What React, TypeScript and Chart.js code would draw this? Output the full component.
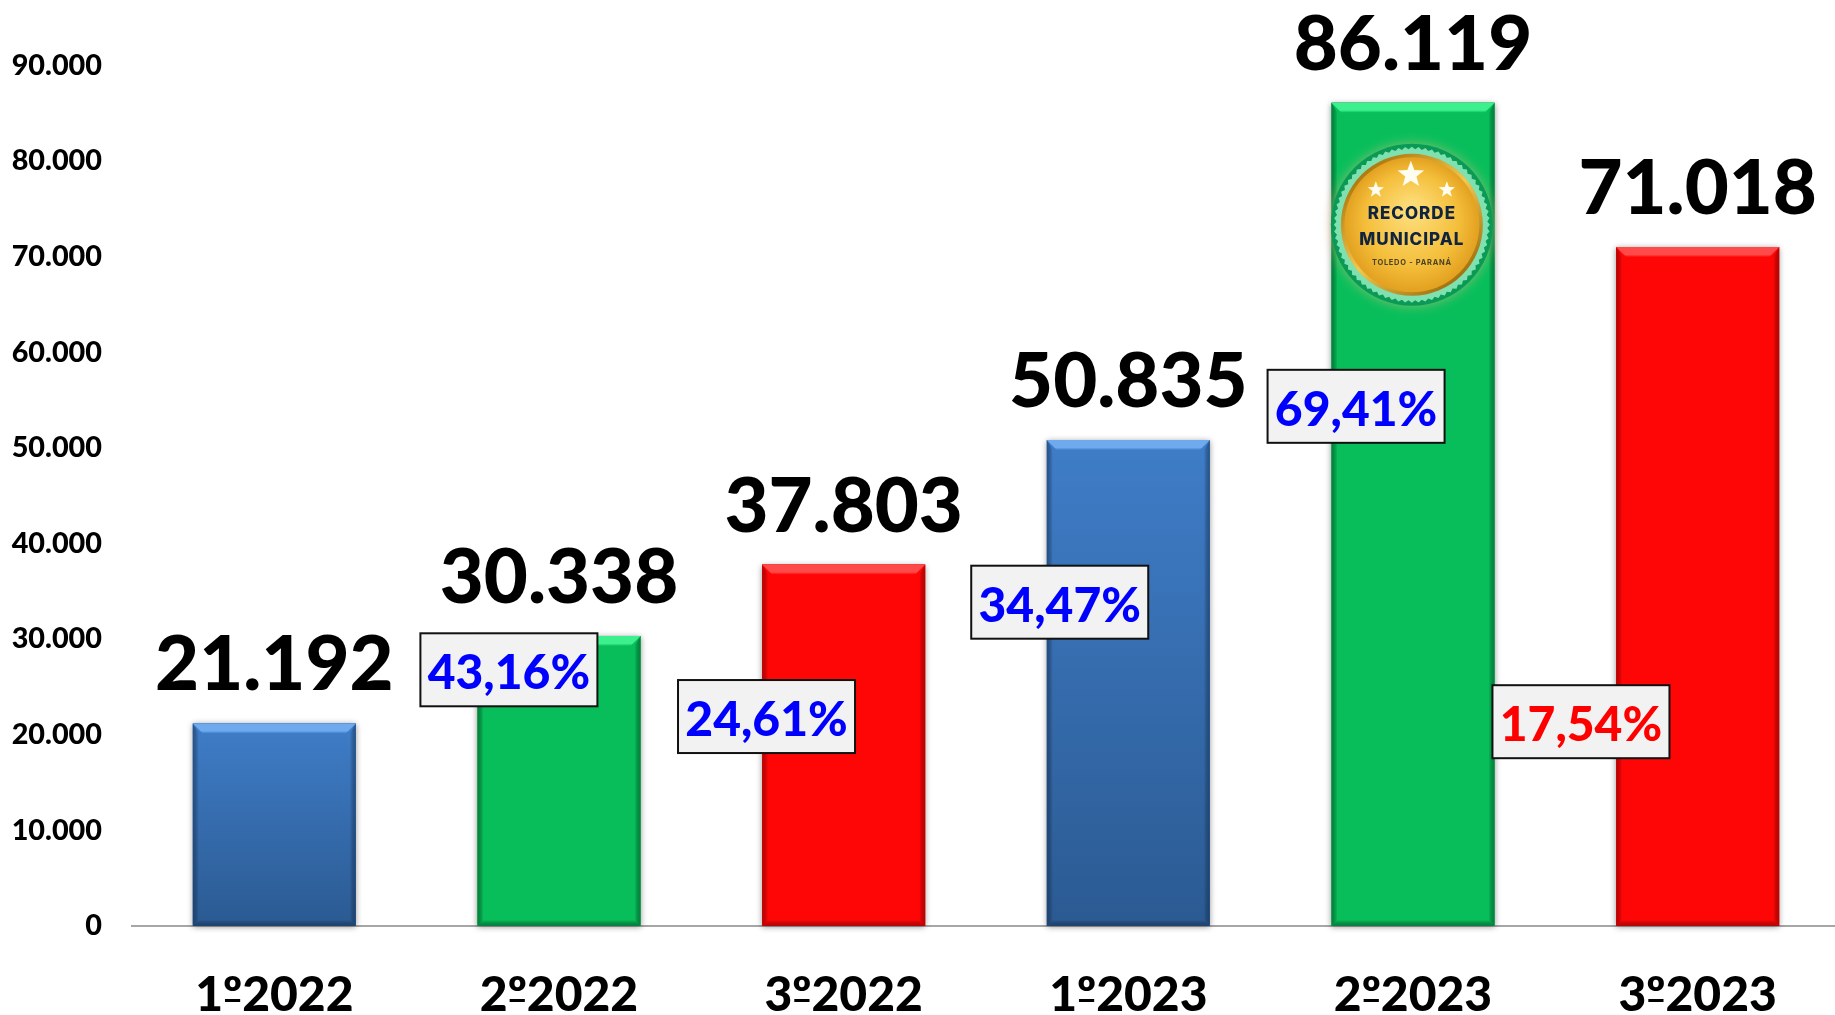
import React, { useEffect, useRef } from "react";
import { Chart, registerables } from "chart.js";

Chart.register(...registerables);

const categories = ["1º2022", "2º2022", "3º2022", "1º2023", "2º2023", "3º2023"];
const values = [21192, 30338, 37803, 50835, 86119, 71018];
const valueLabels = ["21.192", "30.338", "37.803", "50.835", "86.119", "71.018"];
const barColors = ["blue", "green", "red", "blue", "green", "red"];
const pctLabels = ["43,16%", "24,61%", "34,47%", "69,41%", "17,54%"];
const pctColors = ["#0000FF", "#0000FF", "#0000FF", "#0000FF", "#FF0000"];
const pctAtCategory = [0.824, 1.729, 2.759, 3.8, 4.59];
const pctAtValue = [26800, 21910, 33870, 54360, 21370];
const badgeCategory = 3.996;
const badgeValue = 73350;

const FONT = "Lato, Carlito, Calibri, sans-serif";
const TICK_SIZE = 48;
const fmt = (v: number) => (v === 0 ? "0" : `${Math.round(v / 1000)}.000`);

const palette: Record<string, any> = {
  blue: { top: "#3F7DC8", bottom: "#2B5A92", light: "#6FAAEE", edge: "rgba(20,50,90,0.55)" },
  green: { top: "#07BE5A", bottom: "#07BE5A", light: "#3CF08E", edge: "rgba(0,90,40,0.6)" },
  red: { top: "#FF0606", bottom: "#FF0606", light: "#FF4A4A", edge: "rgba(130,0,0,0.55)" },
};

function poly(ctx: CanvasRenderingContext2D, pts: number[][], fill: any) {
  ctx.fillStyle = fill;
  ctx.beginPath();
  pts.forEach((p, i) => (i ? ctx.lineTo(p[0], p[1]) : ctx.moveTo(p[0], p[1])));
  ctx.closePath();
  ctx.fill();
}

function star(ctx: CanvasRenderingContext2D, x: number, y: number, r: number) {
  ctx.beginPath();
  for (let i = 0; i < 10; i++) {
    const rad = i % 2 ? r * 0.42 : r;
    const a = -Math.PI / 2 + (i * Math.PI) / 5;
    const px = x + rad * Math.cos(a);
    const py = y + rad * Math.sin(a);
    if (i) ctx.lineTo(px, py);
    else ctx.moveTo(px, py);
  }
  ctx.closePath();
  ctx.fill();
}

const decorPlugin = {
  id: "decor",
  beforeDatasetsDraw(chart: any) {
    const { ctx } = chart;
    chart.getDatasetMeta(0).data.forEach((bar: any) => {
      const l = bar.x - bar.width / 2;
      ctx.save();
      ctx.shadowColor = "rgba(0,0,0,0.4)";
      ctx.shadowBlur = 6;
      ctx.shadowOffsetY = 1;
      ctx.fillStyle = "#888";
      ctx.fillRect(l, bar.y, bar.width, bar.base - bar.y);
      ctx.restore();
    });
  },
  afterDatasetsDraw(chart: any) {
    const { ctx, scales } = chart;
    const meta = chart.getDatasetMeta(0);
    const tb = 10;
    const sb = 6;
    const bb = 6;
    meta.data.forEach((bar: any, i: number) => {
      const p = palette[barColors[i]];
      const l = bar.x - bar.width / 2;
      const r = bar.x + bar.width / 2;
      const t = bar.y;
      const bt = bar.base;
      const body = ctx.createLinearGradient(0, t, 0, bt);
      body.addColorStop(0, p.top);
      body.addColorStop(1, p.bottom);
      ctx.fillStyle = body;
      ctx.fillRect(l, t, r - l, bt - t);

      const lg = ctx.createLinearGradient(l, 0, l + sb, 0);
      lg.addColorStop(0, p.edge);
      lg.addColorStop(1, "rgba(0,0,0,0)");
      poly(ctx, [[l, t], [l + sb, t + tb], [l + sb, bt - bb], [l, bt]], lg);
      const rg = ctx.createLinearGradient(r, 0, r - sb, 0);
      rg.addColorStop(0, p.edge);
      rg.addColorStop(1, "rgba(0,0,0,0)");
      poly(ctx, [[r, t], [r - sb, t + tb], [r - sb, bt - bb], [r, bt]], rg);
      const tg = ctx.createLinearGradient(0, t, 0, t + tb);
      tg.addColorStop(0, p.light);
      tg.addColorStop(0.75, p.light);
      tg.addColorStop(1, p.top);
      poly(ctx, [[l, t], [r, t], [r - tb, t + tb], [l + tb, t + tb]], tg);
      const bg = ctx.createLinearGradient(0, bt - bb, 0, bt);
      bg.addColorStop(0, "rgba(0,0,0,0)");
      bg.addColorStop(1, p.edge);
      poly(ctx, [[l, bt], [r, bt], [r - bb, bt - bb], [l + bb, bt - bb]], bg);
    });

    // Badge
    const cx = scales.x.getPixelForValue(badgeCategory);
    const cy = scales.y.getPixelForValue(badgeValue);
    ctx.save();
    ctx.shadowColor = "rgba(230,190,130,0.55)";
    ctx.shadowBlur = 12;
    ctx.fillStyle = "#0A9A55";
    ctx.beginPath();
    ctx.arc(cx, cy, 81, 0, Math.PI * 2);
    ctx.fill();
    ctx.restore();
    ctx.fillStyle = "#7FE0B0";
    ctx.beginPath();
    const teeth = 72;
    for (let i = 0; i < teeth * 2; i++) {
      const rr = i % 2 ? 75.5 : 78;
      const a = (i * Math.PI) / teeth;
      const px = cx + rr * Math.cos(a);
      const py = cy + rr * Math.sin(a);
      if (i) ctx.lineTo(px, py);
      else ctx.moveTo(px, py);
    }
    ctx.closePath();
    ctx.fill();
    const ringGrad = ctx.createLinearGradient(cx - 50, cy - 60, cx + 50, cy + 60);
    ringGrad.addColorStop(0, "#A87208");
    ringGrad.addColorStop(0.5, "#F0C850");
    ringGrad.addColorStop(1, "#9A6A08");
    ctx.fillStyle = ringGrad;
    ctx.beginPath();
    ctx.arc(cx, cy, 71, 0, Math.PI * 2);
    ctx.fill();
    const gold = ctx.createRadialGradient(cx, cy - 15, 8, cx, cy, 68);
    gold.addColorStop(0, "#FCDB75");
    gold.addColorStop(0.65, "#F4BE3A");
    gold.addColorStop(1, "#E2A01F");
    ctx.fillStyle = gold;
    ctx.beginPath();
    ctx.arc(cx, cy, 67.5, 0, Math.PI * 2);
    ctx.fill();
    ctx.fillStyle = "#FFFDF0";
    star(ctx, cx - 1, cy - 50, 14);
    star(ctx, cx - 36, cy - 35, 8.5);
    star(ctx, cx + 35, cy - 35, 8.5);
    ctx.save();
    ctx.textAlign = "center";
    ctx.textBaseline = "middle";
    ctx.fillStyle = "#10233F";
    ctx.font = `800 17px Inter, "Open Sans", sans-serif`;
    ctx.letterSpacing = "1px";
    ctx.fillText("RECORDE", cx, cy - 11);
    ctx.fillText("MUNICIPAL", cx, cy + 15);
    ctx.fillStyle = "#4A4226";
    ctx.font = `700 7.5px Inter, "Open Sans", sans-serif`;
    ctx.letterSpacing = "0.7px";
    ctx.fillText("TOLEDO - PARANÁ", cx, cy + 38);
    ctx.restore();

    // Value labels
    ctx.fillStyle = "#000";
    ctx.font = `900 76px ${FONT}`;
    ctx.textAlign = "center";
    ctx.textBaseline = "alphabetic";
    meta.data.forEach((bar: any, i: number) => {
      ctx.fillText(valueLabels[i], bar.x, bar.y - 33);
    });

    // Percent boxes
    const bw = 177;
    const bh = 73;
    pctLabels.forEach((t, i) => {
      const x = scales.x.getPixelForValue(pctAtCategory[i]);
      const y = scales.y.getPixelForValue(pctAtValue[i]);
      ctx.fillStyle = "#F2F2F2";
      ctx.fillRect(x - bw / 2, y - bh / 2, bw, bh);
      ctx.strokeStyle = "#111";
      ctx.lineWidth = 2;
      ctx.strokeRect(x - bw / 2, y - bh / 2, bw, bh);
      ctx.fillStyle = pctColors[i];
      ctx.font = `900 48px ${FONT}`;
      ctx.textAlign = "center";
      ctx.textBaseline = "middle";
      ctx.fillText(t, x, y + 4);
    });
  },
  afterDraw(chart: any) {
    // underline of the ordinal sign in the tick labels
    const { ctx, scales } = chart;
    ctx.save();
    ctx.font = `900 ${TICK_SIZE}px ${FONT}`;
    ctx.fillStyle = "#000";
    categories.forEach((c, i) => {
      const w = ctx.measureText(c).width;
      const head = ctx.measureText(c.slice(0, 1)).width;
      const ord = ctx.measureText("º").width;
      const x = scales.x.getPixelForValue(i) - w / 2 + head;
      ctx.fillRect(x + 2, 999, ord - 4, 3);
    });
    ctx.restore();
  },
};

export default function App() {
  const ref = useRef<HTMLCanvasElement>(null);
  useEffect(() => {
    const chart = new Chart(ref.current!, {
      type: "bar",
      data: {
        labels: categories,
        datasets: [
          {
            data: values,
            barPercentage: 0.5726,
            categoryPercentage: 1,
            borderWidth: 0,
            backgroundColor: barColors.map((c) => palette[c].top),
          },
        ],
      },
      options: {
        animation: false,
        responsive: false,
        layout: { padding: { top: 65.6, left: 0, right: 0, bottom: 0 } },
        plugins: { legend: { display: false }, tooltip: { enabled: false } },
        scales: {
          x: {
            grid: { display: false, drawTicks: false },
            border: { display: true, color: "#A6A6A6", width: 2 },
            ticks: {
              color: "#000",
              font: { family: FONT, weight: "900", size: TICK_SIZE },
              padding: 41,
              maxRotation: 0,
              autoSkip: false,
            },
            afterFit: (s: any) => {
              s.height = 89;
            },
          },
          y: {
            min: 0,
            max: 90000,
            grid: { display: false, drawTicks: false },
            border: { display: false },
            afterFit: (s: any) => {
              s.width = 132;
            },
            ticks: {
              stepSize: 10000,
              color: "#000",
              padding: 30,
              font: { family: FONT, weight: "900", size: 28.8 },
              callback: (v: any) => fmt(Number(v)),
            },
          },
        },
      },
      plugins: [decorPlugin],
    } as any);
    return () => chart.destroy();
  }, []);
  return (
    <div style={{ position: "fixed", left: 0, top: 0, width: 1835, height: 1015, overflow: "hidden", background: "#fff" }}>
      <canvas ref={ref} width={1840} height={1015} style={{ display: "block" }} />
    </div>
  );
}
